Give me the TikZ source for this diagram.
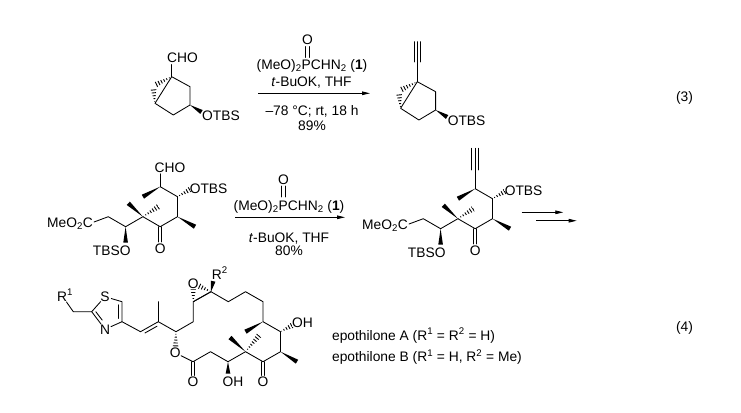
\documentclass[tikz,border=0pt]{standalone}
\usepackage{fontspec}
\setmainfont{Liberation Sans}
\usetikzlibrary{arrows.meta,calc}
% bold wedge: narrow at #1, wide at #2
\newcommand\wdg[2]{\fill (#1) -- ($(#2)!2.3pt!90:(#1)$) -- ($(#2)!2.3pt!-90:(#1)$) -- cycle;}
% hashed wedge: narrow at #1, wide at #2
\newcommand\hsh[2]{\begin{scope}\clip (#1) -- ($(#2)!2.8pt!90:(#1)$) -- ($(#2)!2.8pt!-90:(#1)$) -- cycle;\draw[line cap=butt,line width=7pt,dash pattern=on 0.9pt off 2pt] (#2) -- (#1);\end{scope}}
% centred double bond
\newcommand\cdbl[2]{\draw ($(#1)!1.7pt!90:(#2)$) -- ($(#2)!1.7pt!-90:(#1)$) ($(#1)!1.7pt!-90:(#2)$) -- ($(#2)!1.7pt!90:(#1)$);}
% inner (shortened) second line of a double bond
\newcommand\idbl[4]{\path ($(#1)!0.16!(#2)$) coordinate (tmpa) ($(#1)!0.84!(#2)$) coordinate (tmpb);\draw ($(tmpa)!3.3pt!#3:(tmpb)$) -- ($(tmpb)!3.3pt!#4:(tmpa)$);}
% triple bond
\newcommand\trpl[2]{\draw (#1)--(#2) ($(#1)!3.3pt!90:(#2)$) -- ($(#2)!3.3pt!-90:(#1)$) ($(#1)!3.3pt!-90:(#2)$) -- ($(#2)!3.3pt!90:(#1)$);}
\tikzset{lbl/.style={inner sep=0pt,font=\fontsize{13.8}{16.5}\selectfont},
  rxn/.style={line cap=butt,-{Triangle[length=8pt,width=3.6pt]}}}
% bicyclic core of eq. 3
\newcommand\bicyc[1]{%
\coordinate (a1) at (171.7,76.7);
\coordinate (a2) at (190,86.7);
\coordinate (a3) at (190,105);
\coordinate (a4) at (173.3,115);
\coordinate (a5) at (155,103.3);
\coordinate (acpa) at (156,84.5);
\coordinate (acpb) at (153.5,89.5);
\coordinate (aot) at (201.5,112);
\draw (a1)--(a2)--(a3)--(a4)--(a5)--cycle;
\wdg{a3}{aot}
\hsh{a1}{acpa}
\hsh{a5}{acpb}
\node[lbl,anchor=base] (#1otbs) at (221,120.5) {OTBS};}
% open chain of eq. 4
\newcommand\seco[1]{%
\coordinate (qg) at (108.3,216.7);
\coordinate (qf) at (125.6,226.7);
\coordinate (qe) at (142.9,216.7);
\coordinate (qd) at (160.2,226.7);
\coordinate (qc) at (177.5,216.7);
\coordinate (qb) at (177.5,196.7);
\coordinate (qa) at (160.2,186.7);
\coordinate (qgm) at (94,222);
\coordinate (qame) at (142.9,196.7);
\coordinate (qbo) at (190,189.5);
\coordinate (qcme) at (195,226.7);
\coordinate (qdo) at (160.2,242);
\coordinate (qeme) at (128.3,203.3);
\coordinate (qemh) at (158.3,206.7);
\coordinate (qfo) at (125.6,242.5);
\draw (qgm)--(qg)--(qf)--(qe)--(qd)--(qc)--(qb)--(qa);
\cdbl{qd}{qdo}
\wdg{qa}{qame}\hsh{qb}{qbo}\wdg{qc}{qcme}\wdg{qe}{qeme}\hsh{qe}{qemh}\wdg{qf}{qfo}
\node[lbl,anchor=base] (#1meo) at (70,227.5) {MeO\textsubscript{2}C};
\node[lbl,anchor=base] (#1tbso) at (111.7,255) {TBSO};
\node[lbl,anchor=base] (#1ko) at (160.2,253.5) {O};
\node[lbl,anchor=base] (#1otbs) at (208.6,193.5) {OTBS};}
\begin{document}
\begin{tikzpicture}[x=1pt,y=-1pt,line width=0.85pt,line join=round,line cap=round]
\useasboundingbox (0,0) rectangle (741,412);
% ===== equation 3 =====
\bicyc{s}
\coordinate (acho) at (171.7,64.5);
\draw (a1)--(acho);
\node[lbl,anchor=base] (scho) at (182.5,62.5) {CHO};
\begin{scope}[shift={(245.6,5)}]
\bicyc{p}
\coordinate (bsp) at (171.7,57);
\coordinate (btm) at (171.7,36.7);
\draw (a1)--(bsp);
\trpl{bsp}{btm}
\end{scope}
% reagents 1
\coordinate (r1s) at (258.3,93.3);
\coordinate (r1e) at (370,93.3);
\draw[rxn] (r1s)--(r1e);
\node[lbl,anchor=base] (r1o) at (307.5,45) {O};
\coordinate (r1pa) at (307.5,46.5);
\coordinate (r1pb) at (307.5,57.5);
\cdbl{r1pa}{r1pb}
\node[lbl,anchor=base] (r1a) at (312,69.3) {(MeO)\textsubscript{2}PCHN\textsubscript{2} (\textbf{1})};
\node[lbl,anchor=base] (r1b) at (311.5,86.7) {\textit{t}-BuOK, THF};
\node[lbl,anchor=base] (r1c) at (312,115) {–78 °C; rt, 18 h};
\node[lbl,anchor=base] (r1d) at (312,130.3) {89\%};
\node[lbl,anchor=base] (eq3) at (684.5,101.7) {(3)};
% ===== equation 4, upper line =====
\seco{s}
\coordinate (scho2) at (160.2,173.8);
\draw (qa)--(scho2);
\node[lbl,anchor=base] (sald) at (170,172.5) {CHO};
\begin{scope}[shift={(315,2)}]
\seco{p}
\coordinate (psp) at (160.2,168);
\coordinate (palk) at (160.2,146.3);
\draw (qa)--(psp);
\trpl{psp}{palk}
\end{scope}
% reagents 2
\coordinate (r2s) at (235,217.3);
\coordinate (r2e) at (345,217.3);
\draw[rxn] (r2s)--(r2e);
\node[lbl,anchor=base] (r2o) at (283.5,184.5) {O};
\coordinate (r2pa) at (283.5,186);
\coordinate (r2pb) at (283.5,197);
\cdbl{r2pa}{r2pb}
\node[lbl,anchor=base] (r2a) at (289,210.7) {(MeO)\textsubscript{2}PCHN\textsubscript{2} (\textbf{1})};
\node[lbl,anchor=base] (r2b) at (289,242.5) {\textit{t}-BuOK, THF};
\node[lbl,anchor=base] (r2c) at (289,255.7) {80\%};
% two-step arrows
\coordinate (da1s) at (521.7,212.3);
\coordinate (da1e) at (563.3,212.3);
\coordinate (da2s) at (536,220.7);
\coordinate (da2e) at (576.7,220.7);
\draw[rxn] (da1s)--(da1e);
\draw[rxn] (da2s)--(da2e);
% ===== epothilone =====
\coordinate (r1bd) at (66.5,302);
\coordinate (ch2) at (73.3,311.7);
\coordinate (t2) at (91.7,311.7);
\coordinate (Sx) at (105,296.7);
\coordinate (Nx) at (105,329.3);
\coordinate (t5) at (122,301.7);
\coordinate (t4) at (122,321.7);
\coordinate (v1) at (140.5,331.7);
\coordinate (v2) at (158.3,321.7);
\coordinate (vme) at (158.3,301.7);
\coordinate (c15) at (176,331.7);
\coordinate (c14) at (193.3,321.7);
\coordinate (c13) at (193.3,301.7);
\coordinate (c12) at (211,291.7);
\coordinate (c11) at (228.3,301.7);
\coordinate (c10) at (245.5,291.7);
\coordinate (c9) at (263,301.7);
\coordinate (c8) at (263,321.7);
\coordinate (c7) at (280.5,331.7);
\coordinate (c6) at (280.5,351.7);
\coordinate (c5) at (263,361.7);
\coordinate (c4) at (245.5,351.7);
\coordinate (c3) at (228,361.7);
\coordinate (c2) at (210.5,351.7);
\coordinate (c1) at (193,361.7);
\coordinate (Oe) at (175.3,352.8);
\coordinate (Ox) at (193.3,283.3);
\coordinate (c1o) at (193,375.5);
\coordinate (c5o) at (263,375.5);
\coordinate (c3o) at (228,373.5);
\coordinate (c4m) at (230,337.5);
\coordinate (c4h) at (259,335.5);
\coordinate (c6m) at (297,361.7);
\coordinate (c7o) at (292,325.5);
\coordinate (c8m) at (245.5,331.7);
\coordinate (r2w) at (213.2,281.2);
\coordinate (nb) at ($(Nx)!6.5pt!(t2)$);
\coordinate (oeb) at ($(Oe)!6.5pt!(c15)$);
\coordinate (oec) at ($(Oe)!6.5pt!(c1)$);
\coordinate (oxa) at ($(Ox)!6pt!(c13)$);
\coordinate (oxb) at ($(Ox)!6.5pt!(c12)$);
\node[lbl,anchor=base west] (rr1) at (56.7,301) {R\textsuperscript{1}};
\node[lbl,anchor=base] (sl) at (105,301.7) {S};
\node[lbl,anchor=base] (nl) at (105,334.3) {N};
\draw (r1bd)--(ch2)--(t2)--($(Sx)!6.5pt!(t2)$);
\draw ($(Sx)!6.5pt!(t5)$)--(t5)--(t4)--($(Nx)!6.5pt!(t4)$);
\draw (nb)--(t2);
\idbl{t5}{t4}{-90}{90}
\idbl{t2}{nb}{90}{-90}
\draw (t4)--(v1)--(v2)--(c15)--(c14)--(c13)--(c12)--(c11)--(c10)--(c9)--(c8)--(c7)--(c6)--(c5)--(c4)--(c3)--(c2)--(c1)--(oec);
\draw (v2)--(vme);
\draw (c13)--(c12);
\idbl{v1}{v2}{-90}{90}
\cdbl{c1}{c1o}
\cdbl{c5}{c5o}
\hsh{c15}{oeb}
\hsh{c13}{oxa}
\hsh{c12}{oxb}
\wdg{c12}{r2w}
\wdg{c8}{c8m}
\wdg{c6}{c6m}
\wdg{c4}{c4m}
\hsh{c4}{c4h}
\wdg{c3}{c3o}
\hsh{c7}{c7o}
\node[lbl,anchor=base] (oel) at (175.3,357.8) {O};
\node[lbl,anchor=base] (oxl) at (193.3,288.3) {O};
\node[lbl,anchor=base west] (rr2) at (211.5,279) {R\textsuperscript{2}};
\node[lbl,anchor=base] (oh7) at (302.5,327.3) {OH};
\node[lbl,anchor=base] (o1) at (193,386.7) {O};
\node[lbl,anchor=base] (oh3) at (233,386.7) {OH};
\node[lbl,anchor=base] (o5) at (263,386.7) {O};
\node[lbl,anchor=base west] (epa) at (331.7,340) {epothilone A (R\textsuperscript{1} = R\textsuperscript{2} = H)};
\node[lbl,anchor=base west] (epb) at (331.7,361.7) {epothilone B (R\textsuperscript{1} = H, R\textsuperscript{2} = Me)};
\node[lbl,anchor=base] (eq4) at (684.5,331) {(4)};
\end{tikzpicture}
\end{document}
